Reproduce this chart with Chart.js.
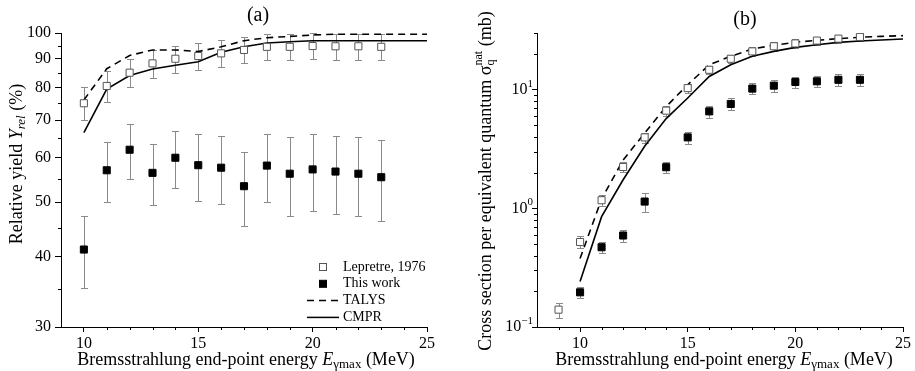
<!DOCTYPE html>
<html>
<head>
<meta charset="utf-8">
<script src="https://cdn.jsdelivr.net/npm/chart.js@4.4.0/dist/chart.umd.min.js"></script>
<style>
  html, body { margin: 0; padding: 0; background: #fff; }
  #wrapA { position: absolute; left: 0; top: 0; width: 457px; height: 371px; }
  #wrapB { position: absolute; left: 457px; top: 0; width: 458px; height: 371px; }
</style>
</head>
<body>
<div id="wrapA"><canvas id="chartA"></canvas></div>
<div id="wrapB"><canvas id="chartB"></canvas></div>
<script>
// panel (a) - relative yield, %
const energyExpA = [10, 11, 12, 13, 14, 15, 16, 17, 18, 19, 20, 21, 22, 23];
const lepretreA = [75.0, 80.5, 85.0, 88.3, 90.0, 91.0, 92.0, 93.3, 94.5, 94.5, 94.8, 94.7, 94.7, 94.5];
const lepretreErrA = [5, 5, 5, 5, 5, 5, 5, 5, 5, 5, 5, 5, 5, 5];
const thisWorkA = [41.2, 57.0, 62.0, 56.4, 60.0, 58.2, 57.6, 53.4, 58.1, 56.2, 57.2, 56.7, 56.2, 55.4];
const thisWorkErrA = [6, 7, 7, 7, 7, 8, 8, 8, 8, 9, 9, 9, 9, 9];
const energyCalc = [10, 11, 12, 13, 14, 15, 16, 17, 18, 19, 20, 21, 22, 23, 24, 25];
const talysA = [76.0, 86.4, 91.2, 93.3, 93.3, 92.7, 94.5, 96.9, 98.1, 98.6, 99.2, 99.5, 99.5, 99.5, 99.5, 99.5];
const cmprA = [66.5, 79.5, 84.0, 86.3, 87.6, 88.9, 92.4, 94.5, 96.0, 96.5, 96.9, 96.9, 96.9, 96.9, 96.9, 96.9];

// panel (b) - cross section per equivalent quantum, mb
const energyLepB = [9, 10, 11, 12, 13, 14, 15, 16, 17, 18, 19, 20, 21, 22, 23];
const lepretreB = [0.14, 0.52, 1.17, 2.23, 3.96, 6.65, 10.3, 14.7, 18.2, 21.0, 23.2, 24.5, 25.9, 26.9, 27.8];
const lepretreErrB = [0.02, 0.06, 0.12, 0.22, 0.38, 0.6, 0.9, 1.25, 1.5, 1.75, 1.9, 2.0, 2.1, 2.2, 2.3];
const energyThisB = [10, 11, 12, 13, 14, 15, 16, 17, 18, 19, 20, 21, 22, 23];
const thisWorkB = [0.196, 0.47, 0.59, 1.14, 2.22, 3.96, 6.56, 7.57, 10.2, 10.8, 11.6, 11.75, 12.1, 12.1];
const thisWorkErrB = [0.022, 0.05, 0.065, 0.2, 0.25, 0.45, 0.75, 0.85, 1.1, 1.2, 1.3, 1.3, 1.35, 1.35];
const talysB = [0.377, 1.2, 2.55, 4.3, 7.2, 11.0, 16.2, 19.1, 22.0, 23.6, 25.1, 26.0, 26.9, 27.6, 28.1, 28.5];
const cmprB = [0.242, 0.85, 1.74, 3.33, 5.7, 8.5, 12.9, 16.2, 19.1, 21.0, 22.7, 23.9, 25.0, 25.7, 26.2, 26.7];

// ticks
const xTicks = [10, 15, 20, 25];
const xMinorA = [11, 12, 13, 14, 16, 17, 18, 19, 21, 22, 23, 24];
const xMinorB = [9, 11, 12, 13, 14, 16, 17, 18, 19, 21, 22, 23, 24];
const yTicksA = [30, 40, 50, 60, 70, 80, 90, 100];
const yMinorA = [35, 45, 55, 65, 75, 85, 95];
const yTicksB = [0.1, 1, 10];
const yMinorB = [0.2, 0.3, 0.4, 0.5, 0.6, 0.7, 0.8, 0.9, 2, 3, 4, 5, 6, 7, 8, 9, 20, 30];

const FONT = "'Liberation Serif', 'Times New Roman', serif";
Chart.defaults.font.family = FONT;
Chart.defaults.color = "#000";

const pts = (xs, ys) => xs.map((x, i) => ({ x: x, y: ys[i] }));
const fontOf = (s) => (s.i ? "italic " : "") + (s.size || 18) + "px " + FONT;

function richWidth(ctx, segs) {
  let w = 0, pend = 0;
  segs.forEach((s) => {
    ctx.font = fontOf(s);
    const m = ctx.measureText(s.t).width;
    if (s.keep) pend = m;
    else { w += Math.max(m, pend); pend = 0; }
  });
  return w;
}

function drawRich(ctx, segs, cx, cy, rot, align) {
  ctx.save();
  ctx.translate(cx, cy);
  if (rot) ctx.rotate(-Math.PI / 2);
  const total = richWidth(ctx, segs);
  let x = align === "right" ? -total : -total / 2;
  let pend = 0;
  ctx.textBaseline = "middle";
  ctx.textAlign = "left";
  ctx.fillStyle = "#000";
  segs.forEach((s) => {
    ctx.font = fontOf(s);
    ctx.fillText(s.t, x, s.dy || 0);
    const m = ctx.measureText(s.t).width;
    if (s.keep) pend = m;
    else { x += Math.max(m, pend); pend = 0; }
  });
  ctx.restore();
}

// error bars under the markers
const errorBars = {
  id: "errorBars",
  beforeDatasetsDraw(chart) {
    const ctx = chart.ctx;
    const xs = chart.scales.x, ys = chart.scales.y;
    chart.data.datasets.forEach((ds) => {
      if (!ds.errors) return;
      ctx.save();
      ctx.strokeStyle = "#8a8a8a";
      ctx.lineWidth = 1;
      ctx.beginPath();
      ds.data.forEach((p, i) => {
        const e = ds.errors[i];
        const x = Math.round(xs.getPixelForValue(p.x)) + 0.5;
        const yt = Math.round(ys.getPixelForValue(p.y + e)) + 0.5;
        const yb = Math.round(ys.getPixelForValue(p.y - e)) + 0.5;
        ctx.moveTo(x, yt); ctx.lineTo(x, yb);
        ctx.moveTo(x - 3.5, yt); ctx.lineTo(x + 3.5, yt);
        ctx.moveTo(x - 3.5, yb); ctx.lineTo(x + 3.5, yb);
      });
      ctx.stroke();
      ctx.restore();
    });
  },
};

// minor ticks, axis titles, panel label, legend
const decor = {
  id: "decor",
  afterDraw(chart, args, o) {
    const ctx = chart.ctx, a = chart.chartArea;
    const xs = chart.scales.x, ys = chart.scales.y;
    ctx.save();
    ctx.strokeStyle = "#000";
    ctx.lineWidth = 1;
    ctx.beginPath();
    o.minorX.forEach((v) => {
      const px = Math.round(xs.getPixelForValue(v)) + 0.5;
      ctx.moveTo(px, a.bottom); ctx.lineTo(px, a.bottom + 3);
    });
    o.minorY.forEach((v) => {
      const py = Math.round(ys.getPixelForValue(v)) + 0.5;
      ctx.moveTo(a.left, py); ctx.lineTo(a.left - 3, py);
    });
    ctx.stroke();

    if (o.powerTicks) {
      o.powerTicks.forEach((v) => {
        const py = ys.getPixelForValue(v);
        const exp = String(Math.round(Math.log10(v))).replace("-", "\u2212");
        drawRich(ctx, [{ t: "10", size: 16 }, { t: exp, size: 11, dy: -6 }], a.left - 4, py, false, "right");
      });
    }

    drawRich(ctx, [{ t: o.label, size: 20 }], o.labelPos[0], o.labelPos[1]);
    drawRich(ctx, o.xTitle, o.xTitlePos[0], o.xTitlePos[1]);
    drawRich(ctx, o.yTitle, o.yTitlePos[0], o.yTitlePos[1], true);

    if (o.legend) {
      const L = o.legend;
      const sx = L.x, tx = L.x + 20;
      L.rows.forEach((r, k) => {
        const y = L.y + k * L.step;
        ctx.save();
        if (r.kind === "open" || r.kind === "filled") {
          ctx.fillStyle = r.kind === "open" ? "#fff" : "#000";
          ctx.strokeStyle = r.kind === "open" ? "#555" : "#000";
          ctx.fillRect(sx - 3.5, y - 3.5, 7, 7);
          ctx.strokeRect(sx - 3.5, y - 3.5, 7, 7);
        } else {
          ctx.strokeStyle = "#000";
          ctx.lineWidth = 1.5;
          if (r.kind === "dash") ctx.setLineDash([7, 5]);
          ctx.beginPath();
          ctx.moveTo(sx - 16, y); ctx.lineTo(sx + 16, y);
          ctx.stroke();
        }
        ctx.restore();
        ctx.font = "14px " + FONT;
        ctx.fillStyle = "#000";
        ctx.textBaseline = "middle";
        ctx.textAlign = "left";
        ctx.fillText(r.text, tx, y);
      });
    }
    ctx.restore();
  },
};

function datasets(expX, lep, lepErr, thisX, tw, twErr, talys, cmpr) {
  return [
    { label: "Lepretre, 1976", data: pts(expX, lep), errors: lepErr, showLine: false,
      pointStyle: "rect", pointRadius: 5, backgroundColor: "#fff", borderColor: "#555", borderWidth: 1 },
    { label: "This work", data: pts(thisX, tw), errors: twErr, showLine: false,
      pointStyle: "rect", pointRadius: 5, backgroundColor: "#000", borderColor: "#000", borderWidth: 1 },
    { label: "TALYS", data: pts(energyCalc, talys), showLine: true, pointRadius: 0,
      borderColor: "#000", borderWidth: 1.6, borderDash: [7, 5], tension: 0 },
    { label: "CMPR", data: pts(energyCalc, cmpr), showLine: true, pointRadius: 0,
      borderColor: "#000", borderWidth: 1.6, tension: 0 },
  ];
}

function axes(xmin, yMin, yMax, yTicks, yWidth, showYLabels, yTickLen) {
  return {
    x: {
      type: "linear", min: xmin, max: 25,
      afterBuildTicks: (s) => { s.ticks = xTicks.map((v) => ({ value: v })); },
      afterFit: (s) => { s.height = 44; },
      grid: { drawOnChartArea: false, drawTicks: true, tickLength: 5, color: "#000" },
      border: { display: true, color: "#000", width: 1 },
      ticks: { font: { size: 16 }, padding: 2, maxRotation: 0, callback: (v) => String(v) },
    },
    y: {
      type: "logarithmic", min: yMin, max: yMax,
      afterBuildTicks: (s) => { s.ticks = yTicks.map((v) => ({ value: v })); },
      afterFit: (s) => { s.width = yWidth; },
      grid: { drawOnChartArea: false, drawTicks: true, tickLength: yTickLen, color: "#000" },
      border: { display: true, color: "#000", width: 1 },
      ticks: { display: showYLabels, font: { size: 16 }, padding: 4, callback: (v) => String(v) },
    },
  };
}

new Chart(document.getElementById("chartA"), {
  type: "scatter",
  data: { datasets: datasets(energyExpA, lepretreA, lepretreErrA, energyExpA, thisWorkA, thisWorkErrA, talysA, cmprA) },
  options: {
    responsive: true, maintainAspectRatio: false, animation: false,
    layout: { padding: { top: 33, right: 30, left: 0, bottom: 0 } },
    scales: axes(9, 30, 100, yTicksA, 61, true, 6),
    plugins: {
      legend: { display: false }, tooltip: { enabled: false },
      decor: {
        minorX: xMinorA, minorY: yMinorA,
        label: "(a)", labelPos: [258, 16],
        xTitle: [{ t: "Bremsstrahlung end-point energy " }, { t: "E", i: true }, { t: "\u03b3max", size: 13, dy: 5 }, { t: " (MeV)" }],
        xTitlePos: [246, 360],
        yTitle: [{ t: "Relative yield " }, { t: "Y", i: true }, { t: "rel", i: true, size: 13, dy: 5 }, { t: " (%)" }],
        yTitlePos: [17, 164],
        legend: { x: 323, y: 267, step: 16.8, rows: [
          { kind: "open", text: "Lepretre, 1976" },
          { kind: "filled", text: "This work" },
          { kind: "dash", text: "TALYS" },
          { kind: "solid", text: "CMPR" },
        ] },
      },
    },
  },
  plugins: [errorBars, decor],
});

new Chart(document.getElementById("chartB"), {
  type: "scatter",
  data: { datasets: datasets(energyLepB, lepretreB, lepretreErrB, energyThisB, thisWorkB, thisWorkErrB, talysB, cmprB) },
  options: {
    responsive: true, maintainAspectRatio: false, animation: false,
    layout: { padding: { top: 33, right: 12, left: 0, bottom: 0 } },
    scales: axes(8, 0.1, 30, yTicksB, 80, false, 5),
    plugins: {
      legend: { display: false }, tooltip: { enabled: false },
      decor: {
        minorX: xMinorB, minorY: yMinorB, powerTicks: yTicksB,
        label: "(b)", labelPos: [288, 20],
        xTitle: [{ t: "Bremsstrahlung end-point energy " }, { t: "E", i: true }, { t: "\u03b3max", size: 13, dy: 5 }, { t: " (MeV)" }],
        xTitlePos: [267, 360],
        yTitle: [{ t: "Cross section per equivalent quantum \u03c3" }, { t: "nat", size: 12, dy: -7, keep: true }, { t: "q", size: 12, dy: 5 }, { t: " (mb)" }],
        yTitlePos: [29, 181],
      },
    },
  },
  plugins: [errorBars, decor],
});
</script>
</body>
</html>
